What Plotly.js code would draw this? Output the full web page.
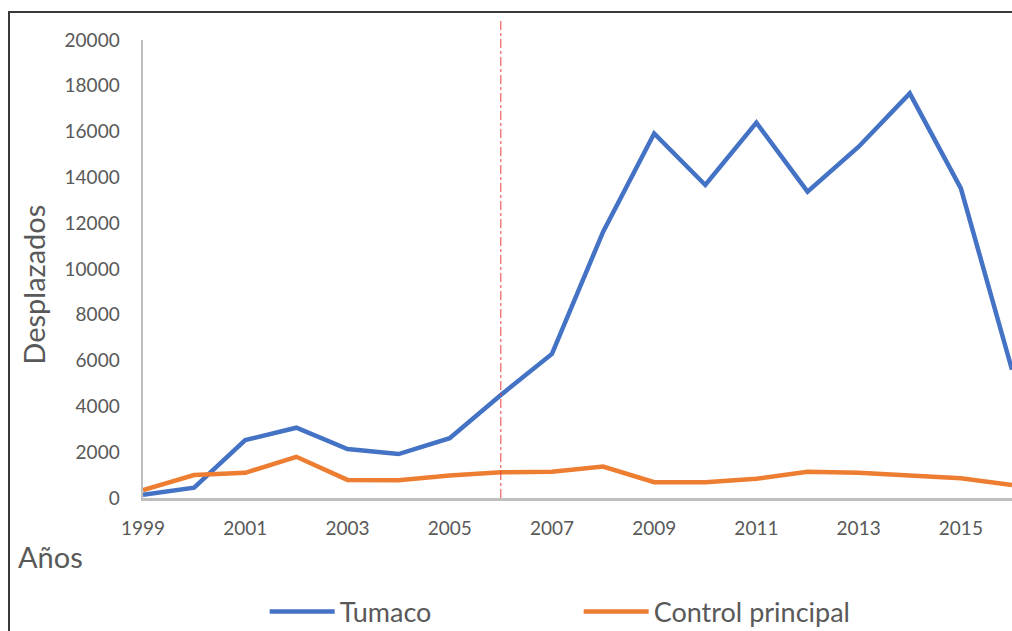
<!DOCTYPE html>
<html>
<head>
<meta charset="utf-8">
<script src="https://cdn.plot.ly/plotly-3.0.1.min.js"></script>
<style>
  html, body { margin: 0; padding: 0; background: #fff; overflow: hidden; }
  #frame { position: absolute; left: 8px; top: 11px; width: 1100px; height: 700px;
           border-left: 2px solid #3a3a3a; border-top: 2px solid #3a3a3a; }
  #chart { position: absolute; left: 0; top: 0; width: 1012px; height: 690px; }
</style>
</head>
<body>
<div id="frame"></div>
<div id="chart"></div>
<script>
const years = [1999, 2000, 2001, 2002, 2003, 2004, 2005, 2006, 2007, 2008,
               2009, 2010, 2011, 2012, 2013, 2014, 2015, 2016];
const tumaco = [140, 450, 2530, 3070, 2140, 1920, 2610, 4500, 6290, 11620,
                15920, 13670, 16390, 13380, 15340, 17670, 13520, 5600];
const controlPrincipal = [350, 1000, 1100, 1800, 790, 780, 980, 1120, 1150, 1370,
                          690, 690, 840, 1150, 1100, 1000, 860, 570];
const seriesNames = ["Tumaco", "Control principal"];
const interventionYear = 2006;
const yTicks = [0, 2000, 4000, 6000, 8000, 10000, 12000, 14000, 16000, 18000, 20000];
const xTicks = [1999, 2001, 2003, 2005, 2007, 2009, 2011, 2013, 2015];

const fontFam = "Lato, 'Open Sans', sans-serif";
const grey = "#595959";

const traces = [
  { x: years, y: tumaco, name: seriesNames[0], type: "scatter", mode: "lines",
    line: { color: "#4472C4", width: 4.5 } },
  { x: years, y: controlPrincipal, name: seriesNames[1], type: "scatter", mode: "lines",
    line: { color: "#ED7D31", width: 4.5 } }
];

const layout = {
  width: 1012, height: 690,
  margin: { l: 143, r: 0, t: 40, b: 192 },
  paper_bgcolor: "rgba(0,0,0,0)",
  plot_bgcolor: "rgba(0,0,0,0)",
  showlegend: true,
  font: { family: fontFam, color: grey, size: 19 },
  xaxis: {
    range: [1999, 2016],
    tickvals: xTicks,
    ticktext: xTicks.map(String),
    showgrid: false, zeroline: false,
    showline: true, linecolor: "#bfbfbf", linewidth: 2.5,
    ticks: "outside", ticklen: 12, tickcolor: "rgba(0,0,0,0)",
    tickfont: { family: fontFam, size: 19, color: grey }
  },
  yaxis: {
    range: [0, 20000],
    tickvals: yTicks,
    ticktext: yTicks.map(String),
    showgrid: false, zeroline: false,
    showline: true, linecolor: "#bfbfbf", linewidth: 2.5,
    ticks: "outside", ticklen: 17, tickcolor: "rgba(0,0,0,0)",
    tickfont: { family: fontFam, size: 19, color: grey }
  },
  legend: {
    orientation: "h",
    x: 0.14, xanchor: "left",
    y: -0.249, yanchor: "middle",
    font: { family: fontFam, size: 27, color: grey },
    entrywidth: 234, entrywidthmode: "pixels",
    itemwidth: 65,
    bgcolor: "rgba(0,0,0,0)"
  },
  shapes: [
    { type: "line", xref: "x", yref: "paper",
      x0: interventionYear, x1: interventionYear, y0: 0, y1: 1.048,
      line: { color: "#E8403C", width: 1, dash: "dashdot" } }
  ],
  annotations: [
    { text: "Desplazados", xref: "paper", yref: "paper",
      x: -0.127, y: 0.465, xanchor: "center", yanchor: "middle",
      textangle: -90, showarrow: false,
      font: { family: fontFam, size: 29, color: grey } },
    { text: "Años", xref: "paper", yref: "paper",
      x: -0.146, y: -0.128, xanchor: "left", yanchor: "middle",
      showarrow: false,
      font: { family: fontFam, size: 29, color: grey } }
  ]
};

Plotly.newPlot("chart", traces, layout, { displayModeBar: false, staticPlot: true });
</script>
</body>
</html>
